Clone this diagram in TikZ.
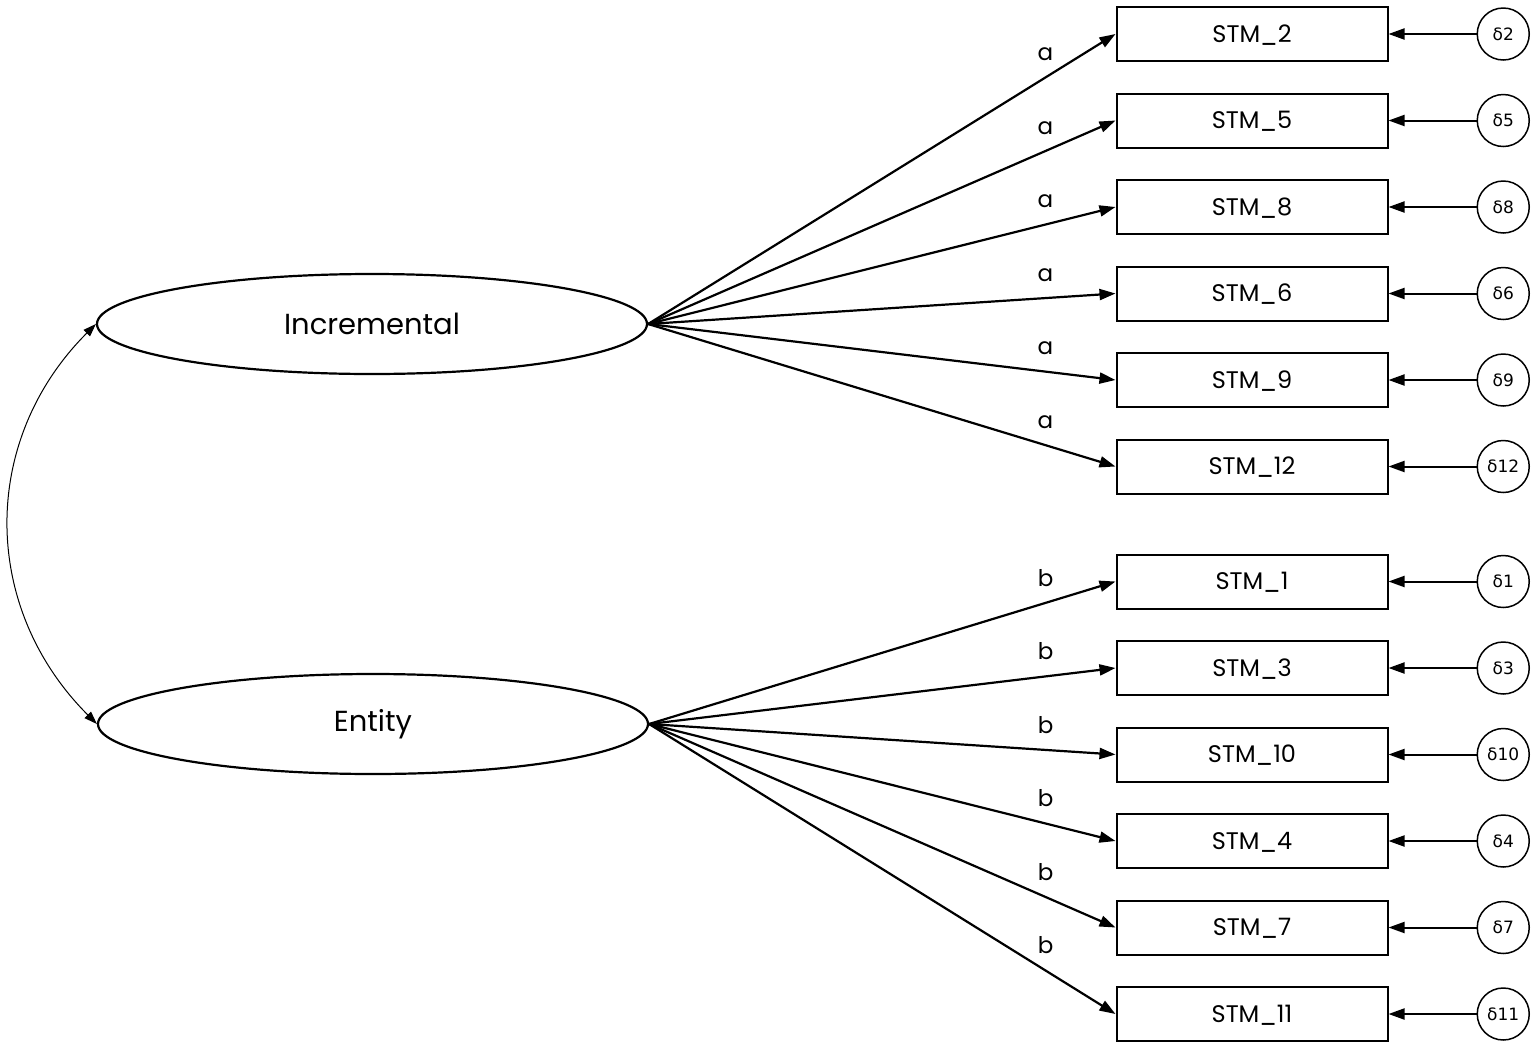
\documentclass[tikz,border=0pt]{standalone}
\usepackage{fontspec}
\setmainfont{Poppins}
\newfontfamily\grk{DejaVu Sans}
\usepackage{tikz}
\usetikzlibrary{shapes,arrows.meta,positioning}

\tikzset{
    latent/.style={ellipse, draw, line width=2.2pt, minimum width=550pt, minimum height=100pt, inner sep=0pt, font=\fontsize{29}{35}\selectfont},
    item/.style={rectangle, draw, line width=2pt, minimum width=271pt, minimum height=54pt, text depth=1pt, font=\fontsize{24}{28}\selectfont},
    err/.style={circle, draw, line width=1.5pt, minimum size=52pt, inner sep=0pt, font=\grk\fontsize{17}{20}\selectfont},
    load/.style={-{Triangle[length=16pt,width=11pt]}, line width=2.2pt},
    lbl/.style={pos=0.85, above=12pt, font=\fontsize{23}{27}\selectfont}
}

\begin{document}
\begin{tikzpicture}[x=1pt, y=-1pt]
    \useasboundingbox (0,0) rectangle (1535,1045);

    % factors
    \node[latent] (inc) at (372,324) {Incremental};
    \node[latent] (ent) at (373,724) {Entity};

    % indicators of Incremental
    \node[item] (stm2) at (1252,34) {STM\_2};
    \node[item, below=30.5pt of stm2] (stm5) {STM\_5};
    \node[item, below=30.5pt of stm5] (stm8) {STM\_8};
    \node[item, below=30.5pt of stm8] (stm6) {STM\_6};
    \node[item, below=30.5pt of stm6] (stm9) {STM\_9};
    \node[item, below=30.5pt of stm9] (stm12) {STM\_12};

    % indicators of Entity
    \node[item, below=59pt of stm12] (stm1) {STM\_1};
    \node[item, below=30.5pt of stm1] (stm3) {STM\_3};
    \node[item, below=30.5pt of stm3] (stm10) {STM\_10};
    \node[item, below=30.5pt of stm10] (stm4) {STM\_4};
    \node[item, below=30.5pt of stm4] (stm7) {STM\_7};
    \node[item, below=30.5pt of stm7] (stm11) {STM\_11};

    % error terms
    \node[err, right=88pt of stm2] (d2) {δ2};
    \node[err, right=88pt of stm5] (d5) {δ5};
    \node[err, right=88pt of stm8] (d8) {δ8};
    \node[err, right=88pt of stm6] (d6) {δ6};
    \node[err, right=88pt of stm9] (d9) {δ9};
    \node[err, right=88pt of stm12] (d12) {δ12};
    \node[err, right=88pt of stm1] (d1) {δ1};
    \node[err, right=88pt of stm3] (d3) {δ3};
    \node[err, right=88pt of stm10] (d10) {δ10};
    \node[err, right=88pt of stm4] (d4) {δ4};
    \node[err, right=88pt of stm7] (d7) {δ7};
    \node[err, right=88pt of stm11] (d11) {δ11};

    % loadings
    \draw[load] (inc.east) -- node[lbl] {a} (stm2.west);
    \draw[load] (inc.east) -- node[lbl] {a} (stm5.west);
    \draw[load] (inc.east) -- node[lbl] {a} (stm8.west);
    \draw[load] (inc.east) -- node[lbl] {a} (stm6.west);
    \draw[load] (inc.east) -- node[lbl] {a} (stm9.west);
    \draw[load] (inc.east) -- node[lbl] {a} (stm12.west);
    \draw[load] (ent.east) -- node[lbl] {b} (stm1.west);
    \draw[load] (ent.east) -- node[lbl] {b} (stm3.west);
    \draw[load] (ent.east) -- node[lbl] {b} (stm10.west);
    \draw[load] (ent.east) -- node[lbl] {b} (stm4.west);
    \draw[load] (ent.east) -- node[lbl] {b} (stm7.west);
    \draw[load] (ent.east) -- node[lbl] {b} (stm11.west);

    % errors to items
    \draw[load, line width=2pt] (d2) -- (stm2);
    \draw[load, line width=2pt] (d5) -- (stm5);
    \draw[load, line width=2pt] (d8) -- (stm8);
    \draw[load, line width=2pt] (d6) -- (stm6);
    \draw[load, line width=2pt] (d9) -- (stm9);
    \draw[load, line width=2pt] (d12) -- (stm12);
    \draw[load, line width=2pt] (d1) -- (stm1);
    \draw[load, line width=2pt] (d3) -- (stm3);
    \draw[load, line width=2pt] (d10) -- (stm10);
    \draw[load, line width=2pt] (d4) -- (stm4);
    \draw[load, line width=2pt] (d7) -- (stm7);
    \draw[load, line width=2pt] (d11) -- (stm11);

    % covariance
    \draw[{Triangle[length=13pt,width=9pt]}-{Triangle[length=13pt,width=9pt]}, line width=1pt]
        (inc.west) to[out=225, in=135, looseness=1.05] (ent.west);
\end{tikzpicture}
\end{document}
